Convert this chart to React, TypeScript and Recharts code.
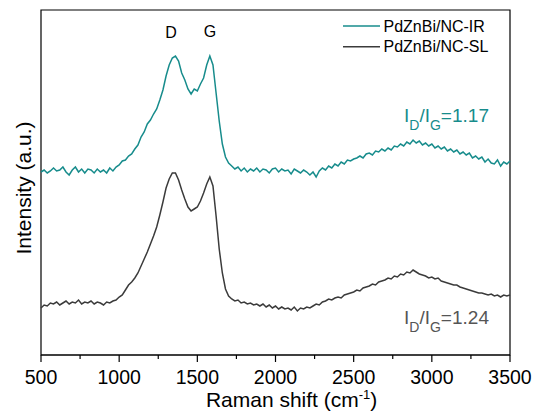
import React from "react";
import { LineChart, Line, XAxis, YAxis, ReferenceArea } from "recharts";

const shifts = [
  500, 520, 540, 560, 580, 600, 620, 640, 660, 680, 700, 720, 740, 760, 780, 800, 820, 840, 860, 880,
  900, 920, 940, 960, 980, 1000, 1020, 1040, 1060, 1080, 1100, 1120, 1140, 1160, 1180, 1200, 1220, 1240, 1260, 1280,
  1300, 1320, 1340, 1360, 1380, 1400, 1420, 1440, 1460, 1480, 1500, 1520, 1540, 1560, 1580, 1600, 1620, 1640, 1660, 1680,
  1700, 1720, 1740, 1760, 1780, 1800, 1820, 1840, 1860, 1880, 1900, 1920, 1940, 1960, 1980, 2000, 2020, 2040, 2060, 2080,
  2100, 2120, 2140, 2160, 2180, 2200, 2220, 2240, 2260, 2280, 2300, 2320, 2340, 2360, 2380, 2400, 2420, 2440, 2460, 2480,
  2500, 2520, 2540, 2560, 2580, 2600, 2620, 2640, 2660, 2680, 2700, 2720, 2740, 2760, 2780, 2800, 2820, 2840, 2860, 2880,
  2900, 2920, 2940, 2960, 2980, 3000, 3020, 3040, 3060, 3080, 3100, 3120, 3140, 3160, 3180, 3200, 3220, 3240, 3260, 3280,
  3300, 3320, 3340, 3360, 3380, 3400, 3420, 3440, 3460, 3480, 3500,
];

const irIntensity = [
  183, 185, 182, 184, 187, 184, 185, 188, 183, 180, 185, 188, 183, 186, 182, 186, 185, 182, 186, 183,
  185, 182, 187, 184, 188, 190, 194, 195, 199, 201, 206, 210, 218, 223, 231, 235, 241, 246, 255, 265,
  279, 290, 297, 299, 294, 282, 275, 266, 261, 266, 264, 271, 277, 290, 299, 290, 262, 234, 211, 198,
  192, 189, 186, 188, 184, 187, 183, 186, 184, 187, 183, 186, 185, 182, 186, 187, 183, 186, 184, 185,
  181, 186, 184, 182, 185, 183, 180, 183, 178, 184, 187, 185, 189, 187, 191, 189, 193, 191, 195, 194,
  196, 197, 199, 197, 201, 202, 200, 204, 203, 206, 204, 207, 205, 209, 208, 211, 209, 213, 211, 215,
  212, 214, 210, 212, 209, 211, 207, 209, 206, 208, 204, 206, 203, 205, 201, 203, 200, 202, 197, 199,
  196, 198, 193, 196, 192, 191, 195, 189, 193, 191, 194,
];

const slIntensity = [
  47, 50, 49, 52, 51, 53, 50, 52, 54, 51, 53, 52, 55, 51, 53, 52, 54, 51, 53, 52,
  50, 53, 52, 54, 55, 58, 60, 65, 70, 73, 77, 82, 89, 96, 103, 111, 119, 128, 140, 153,
  167, 176, 182, 182, 175, 165, 156, 148, 144, 146, 148, 154, 162, 171, 178, 169, 139, 106, 82, 66,
  59, 56, 54, 55, 52, 53, 51, 52, 50, 51, 49, 51, 48, 50, 47, 49, 46, 48, 46, 47,
  45, 48, 44, 47, 46, 48, 47, 49, 51, 50, 53, 54, 56, 55, 57, 58, 57, 60, 61, 62,
  63, 65, 64, 67, 68, 69, 71, 70, 73, 74, 75, 77, 76, 79, 78, 81, 80, 83, 82, 85,
  83, 81, 80, 79, 77, 78, 76, 77, 74, 73, 72, 71, 70, 70, 68, 67, 66, 65, 64, 63,
  62, 62, 61, 60, 61, 59, 60, 58, 60, 59, 60,
];

const xTicks = [500, 750, 1000, 1250, 1500, 1750, 2000, 2250, 2500, 2750, 3000, 3250, 3500];
const legendNames = ["PdZnBi/NC-IR", "PdZnBi/NC-SL"];
const peakLabels = ["D", "G"];
const ratioLabels = ["1.17", "1.24"];

const TEAL = "#178c8c";
const DARK = "#3b3b3b";
const FONT = "'Liberation Sans', Arial, sans-serif";

const data = shifts.map((s, i) => ({ shift: s, ir: irIntensity[i], sl: slIntensity[i] }));

const XTick = (props: any) => {
  const { x, y, payload } = props;
  const major = payload.value % 500 === 0;
  return (
    <g>
      <line x1={x} x2={x} y1={y} y2={y + (major ? 7 : 4)} stroke="#000" strokeWidth={1.2} />
      {major && (
        <text x={x} y={y + 29} textAnchor="middle" fontSize={19.5} fill="#000" fontFamily={FONT}>
          {payload.value}
        </text>
      )}
    </g>
  );
};

export default function App() {
  return (
    <div style={{ position: "absolute", left: 0, top: 0, width: 536, height: 414, background: "#fff" }}>
      <LineChart width={536} height={414} data={data} margin={{ top: 10, right: 26, bottom: 29, left: 41 }}>
        <XAxis
          dataKey="shift"
          type="number"
          domain={[500, 3500]}
          ticks={xTicks}
          interval={0}
          height={30}
          tickSize={0}
          tickMargin={0}
          tickLine={false}
          axisLine={{ stroke: "#000", strokeWidth: 1.2 }}
          tick={<XTick />}
        />
        <YAxis hide domain={[0, 345]} type="number" />
        <ReferenceArea x1={500} x2={3500} y1={0} y2={345} fill="none" stroke="#000" strokeWidth={1.2} ifOverflow="visible" />
        <Line type="linear" dataKey="ir" stroke={TEAL} strokeWidth={1.5} dot={false} isAnimationActive={false} />
        <Line type="linear" dataKey="sl" stroke={DARK} strokeWidth={1.5} dot={false} isAnimationActive={false} />
      </LineChart>
      <svg
        width={536}
        height={414}
        style={{ position: "absolute", left: 0, top: 0, pointerEvents: "none" }}
        fontFamily={FONT}
      >
        <text transform="translate(30.5,188) rotate(-90)" textAnchor="middle" fontSize={21} fill="#000">
          Intensity (a.u.)
        </text>
        <text x={291.6} y={407} textAnchor="middle" fontSize={21} fill="#000">
          Raman shift (cm<tspan fontSize={13} dy={-8}>-1</tspan>
          <tspan dy={8}>)</tspan>
        </text>
        <text x={171} y={38.3} textAnchor="middle" fontSize={16} fill="#000">{peakLabels[0]}</text>
        <text x={210} y={36.7} textAnchor="middle" fontSize={16} fill="#000">{peakLabels[1]}</text>
        <line x1={343} x2={380} y1={26} y2={26} stroke={TEAL} strokeWidth={1.5} />
        <line x1={343} x2={380} y1={46.7} y2={46.7} stroke={DARK} strokeWidth={1.5} />
        <text x={383.5} y={31.7} fontSize={16} fill="#000">{legendNames[0]}</text>
        <text x={383.5} y={52.3} fontSize={16} fill="#000">{legendNames[1]}</text>
        <text x={404} y={121.7} fontSize={19} fill={TEAL}>
          I<tspan fontSize={14} dy={8}>D</tspan>
          <tspan dy={-8}>/I</tspan>
          <tspan fontSize={14} dy={8}>G</tspan>
          <tspan dy={-8}>={ratioLabels[0]}</tspan>
        </text>
        <text x={404} y={324} fontSize={19} fill="#555">
          I<tspan fontSize={14} dy={8}>D</tspan>
          <tspan dy={-8}>/I</tspan>
          <tspan fontSize={14} dy={8}>G</tspan>
          <tspan dy={-8}>={ratioLabels[1]}</tspan>
        </text>
      </svg>
    </div>
  );
}
